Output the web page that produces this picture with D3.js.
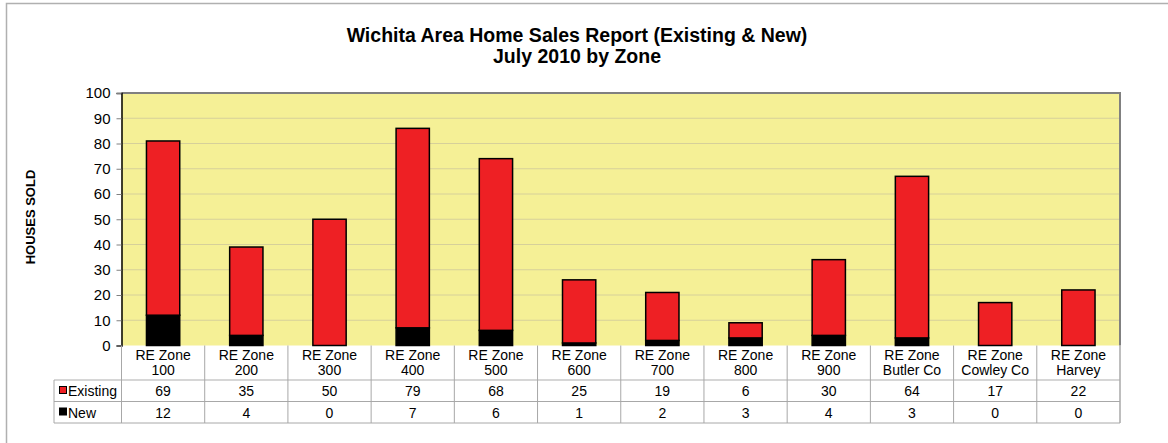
<!DOCTYPE html>
<html>
<head>
<meta charset="utf-8">
<script src="https://cdn.jsdelivr.net/npm/d3@7"></script>
<style>
  body { margin: 0; background: #fff; }
  svg text { font-family: "Liberation Sans", Arial, sans-serif; fill: #000; }
</style>
</head>
<body>
<div id="chartArea"></div>
<script>
// zones (two-line labels) and values per series
const zones = ["RE Zone|100", "RE Zone|200", "RE Zone|300", "RE Zone|400", "RE Zone|500", "RE Zone|600",
               "RE Zone|700", "RE Zone|800", "RE Zone|900", "RE Zone|Butler Co", "RE Zone|Cowley Co", "RE Zone|Harvey"];
const existing = [69, 35, 50, 79, 68, 25, 19, 6, 30, 64, 17, 22];
const newHomes = [12, 4, 0, 7, 6, 1, 2, 3, 4, 3, 0, 0];
const yTicks = [0, 10, 20, 30, 40, 50, 60, 70, 80, 90, 100];

const W = 1168, H = 443;
const plotLeft = 121.5, plotRight = 1120, plotTop = 93, plotBottom = 345.5;

const svg = d3.select("#chartArea").append("svg")
              .attr("width", W).attr("height", H);

// outer frame
svg.append("rect")
   .attr("x", 6.5).attr("y", 3.5)
   .attr("width", 1200).attr("height", 500)
   .attr("fill", "#fff").attr("stroke", "#b0b0b0").attr("stroke-width", 1.5);

// title
svg.append("text").attr("x", 577).attr("y", 42).attr("text-anchor", "middle")
   .style("font-size", "19.5px").style("font-weight", "bold")
   .text("Wichita Area Home Sales Report (Existing & New)");
svg.append("text").attr("x", 577).attr("y", 62.5).attr("text-anchor", "middle")
   .style("font-size", "19.5px").style("font-weight", "bold")
   .text("July 2010 by Zone");

const xScale = d3.scaleBand().domain(zones).range([plotLeft, plotRight]).paddingInner(0).paddingOuter(0);
const yScale = d3.scaleLinear().domain([0, 100]).range([plotBottom, plotTop]);

// plot background
svg.append("rect")
   .attr("x", plotLeft).attr("y", plotTop)
   .attr("width", plotRight - plotLeft).attr("height", plotBottom - plotTop)
   .attr("fill", "#f5f096");

// gridlines
svg.append("g").selectAll("line")
   .data(yTicks.filter(d => d > 0 && d < 100))
   .join("line")
   .attr("x1", plotLeft).attr("x2", plotRight)
   .attr("y1", d => yScale(d)).attr("y2", d => yScale(d))
   .attr("stroke", "#d6d09a").attr("stroke-width", 1);

// top / right border of plot
svg.append("path")
   .attr("d", `M${plotLeft},${plotTop}H${plotRight}V${plotBottom}`)
   .attr("fill", "none").attr("stroke", "#808080").attr("stroke-width", 2);

// stacked bars
const stackData = zones.map((z, i) => ({zone: z, New: newHomes[i], Existing: existing[i]}));
const series = d3.stack().keys(["New", "Existing"])(stackData);
const colors = {New: "#000000", Existing: "#ee2024"};
const bw = xScale.bandwidth() * 0.4;

series.forEach(s => {
  svg.append("g").selectAll("rect")
     .data(s.filter(d => d[1] - d[0] > 0))
     .join("rect")
     .attr("x", d => xScale(d.data.zone) + (xScale.bandwidth() - bw) / 2)
     .attr("y", d => yScale(d[1]))
     .attr("width", bw)
     .attr("height", d => yScale(d[0]) - yScale(d[1]))
     .attr("fill", colors[s.key])
     .attr("stroke", "#000").attr("stroke-width", 1.5);
});

// y axis
const yAxis = d3.axisLeft(yScale).tickValues(yTicks).tickSize(5).tickPadding(6);
const yAxisGroup = svg.append("g")
   .attr("transform", `translate(${plotLeft},0)`)
   .call(yAxis);
yAxisGroup.select(".domain").attr("stroke", "#000").attr("stroke-width", 1.5);
yAxisGroup.selectAll(".tick line").attr("stroke", "#808080");
yAxisGroup.selectAll("text").style("font-size", "15px");

// y axis title
svg.append("text")
   .attr("transform", `translate(35,217) rotate(-90)`)
   .attr("text-anchor", "middle")
   .style("font-size", "13px").style("font-weight", "bold")
   .text("HOUSES SOLD");

// data table
const rowTops = [345.5, 380, 401.5, 423];
const tableLeft = 54;
const gridColor = "#a8a8a8";
const table = svg.append("g");

// horizontal lines
table.append("line").attr("x1", tableLeft).attr("x2", plotRight).attr("y1", rowTops[1]).attr("y2", rowTops[1])
     .attr("stroke", "#c8c8c8").attr("stroke-width", 1.5);
table.append("line").attr("x1", tableLeft).attr("x2", plotRight).attr("y1", rowTops[2]).attr("y2", rowTops[2])
     .attr("stroke", gridColor).attr("stroke-width", 1);
table.append("line").attr("x1", tableLeft).attr("x2", plotRight).attr("y1", rowTops[3]).attr("y2", rowTops[3])
     .attr("stroke", gridColor).attr("stroke-width", 1);
table.append("line").attr("x1", tableLeft).attr("x2", tableLeft).attr("y1", rowTops[1]).attr("y2", rowTops[3])
     .attr("stroke", gridColor).attr("stroke-width", 1);

// vertical lines between zones
table.selectAll(".vline")
     .data(zones)
     .join("line")
     .attr("x1", d => xScale(d)).attr("x2", d => xScale(d))
     .attr("y1", plotBottom).attr("y2", rowTops[3])
     .attr("stroke", gridColor).attr("stroke-width", 1);
table.append("line").attr("x1", plotRight).attr("x2", plotRight).attr("y1", plotBottom).attr("y2", rowTops[3])
     .attr("stroke", gridColor).attr("stroke-width", 1.5);

// category labels
zones.forEach(z => {
  const parts = z.split("|");
  const cx = xScale(z) + xScale.bandwidth() / 2;
  const t = table.append("text")
     .attr("text-anchor", "middle")
     .style("font-size", "14px");
  t.append("tspan").attr("x", cx).attr("y", 360).text(parts[0]);
  t.append("tspan").attr("x", cx).attr("y", 375).text(parts[1]);
});

// value rows
[["Existing", existing, rowTops[1]], ["New", newHomes, rowTops[2]]].forEach(([name, vals, y0]) => {
  table.append("g").selectAll("text")
       .data(vals)
       .join("text")
       .attr("x", (d, i) => xScale(zones[i]) + xScale.bandwidth() / 2)
       .attr("y", y0 + 16)
       .attr("text-anchor", "middle")
       .style("font-size", "14px")
       .text(d => d);
  table.append("rect")
       .attr("x", 59.5).attr("y", y0 + 6.5)
       .attr("width", 7).attr("height", 7)
       .attr("fill", colors[name]).attr("stroke", "#000").attr("stroke-width", 1);
  table.append("text")
       .attr("x", 68).attr("y", y0 + 16)
       .style("font-size", "14px")
       .text(name);
});
</script>
</body>
</html>
